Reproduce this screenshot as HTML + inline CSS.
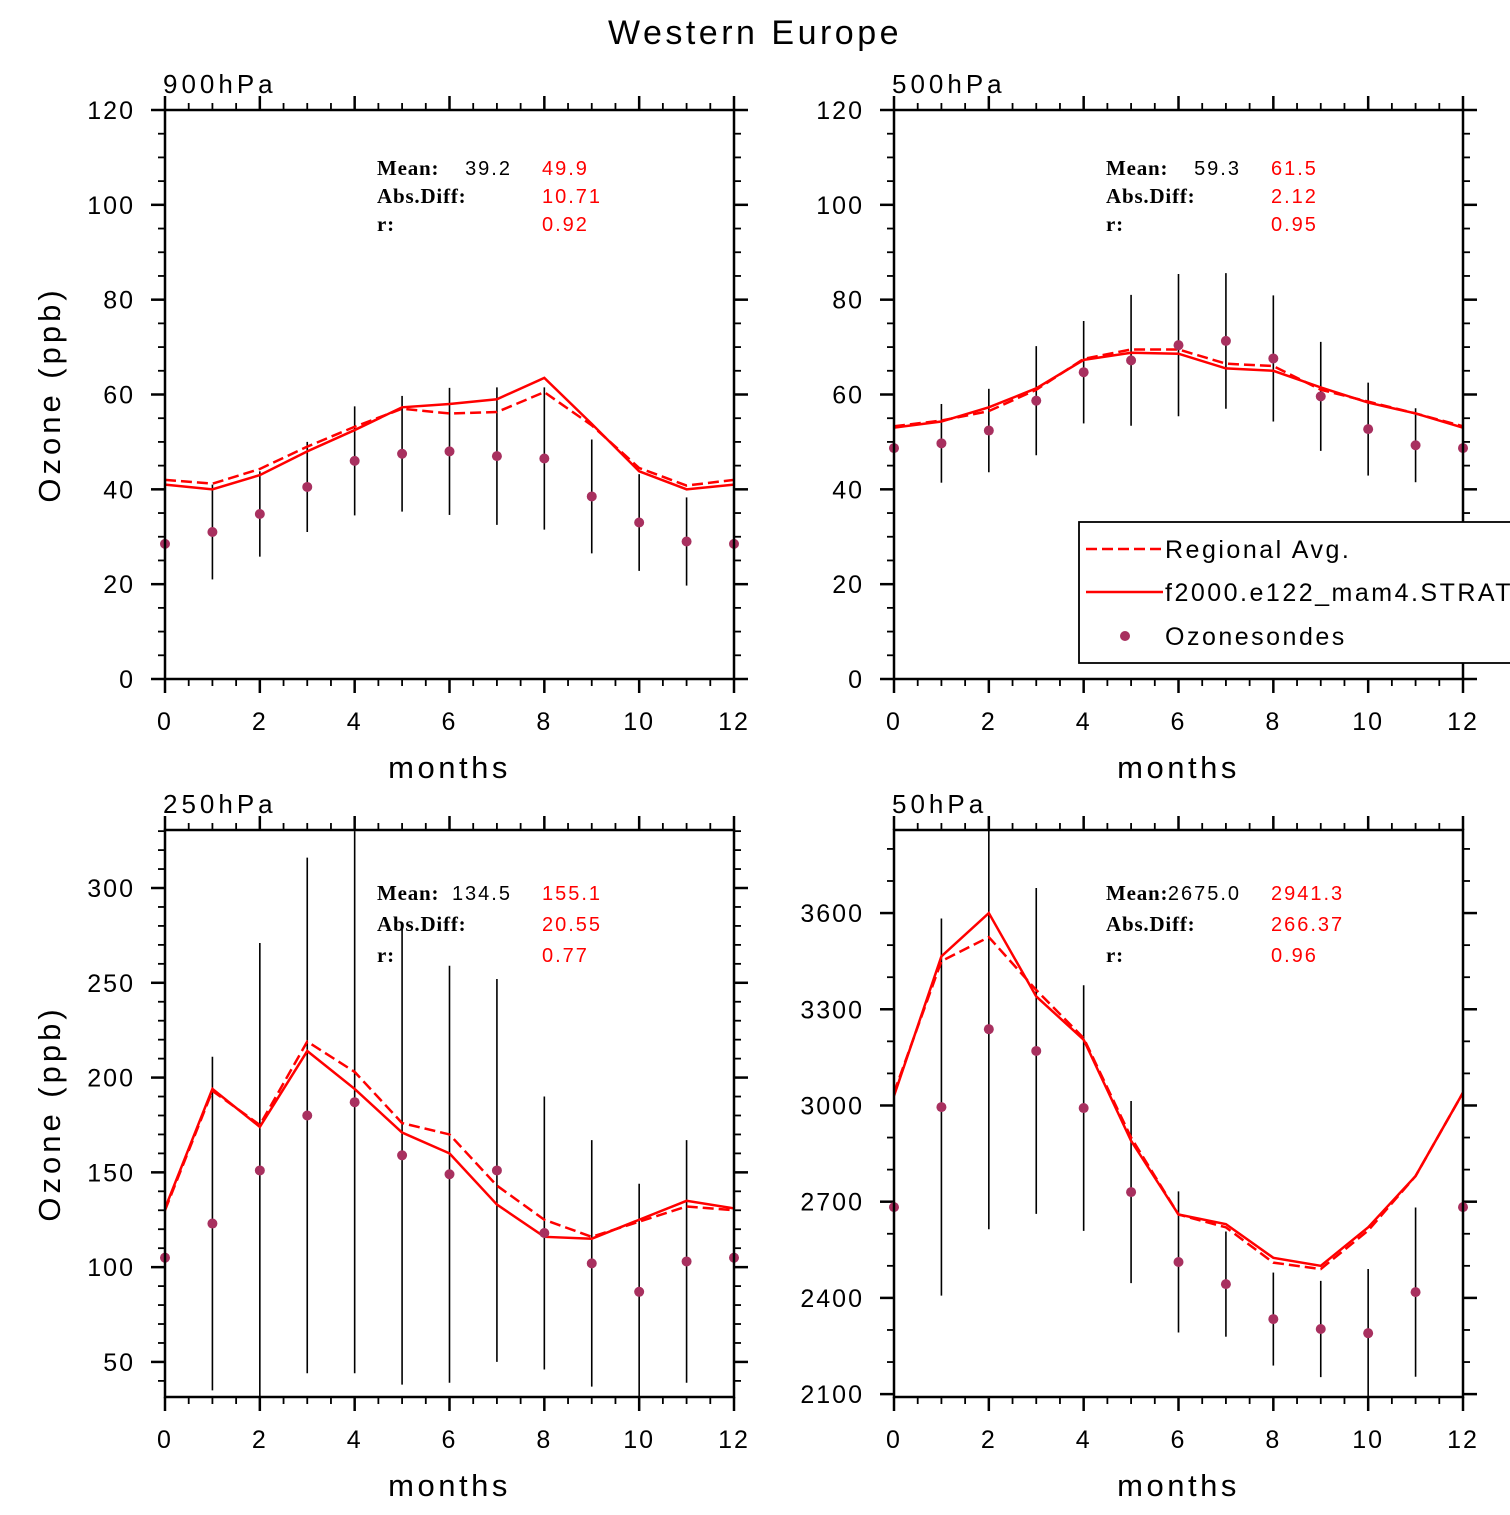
<!DOCTYPE html>
<html><head><meta charset="utf-8"><style>
body{margin:0;background:#fff}
svg text{font-family:"Liberation Sans",sans-serif}
.lab{font-family:"Liberation Serif",serif;font-weight:bold;font-size:21px;letter-spacing:0.8px}
</style></head><body>
<svg id="s" width="1510" height="1510" viewBox="0 0 1510 1510" xmlns="http://www.w3.org/2000/svg">
<text x="755" y="44" font-size="34" text-anchor="middle" letter-spacing="3.5">Western Europe</text>
</svg>
<script>
const months=[0,1,2,3,4,5,6,7,8,9,10,11,12];
const p900Dash=[42,41.2,44.3,49,53.2,57,56,56.3,60.5,53.5,44.5,40.8,42];
const p900Solid=[41,40,43,48,52.5,57.3,58,59,63.5,53.8,43.8,40,41];
const p900Obs=[28.5,31,34.8,40.5,46,47.5,48,47,46.5,38.5,33,29,28.5];
const p900Err=[0,10,9,9.5,11.5,12.2,13.4,14.5,15,12,10.2,9.3,0];
const p500Dash=[53.3,54.5,56.5,61,67.5,69.5,69.5,66.5,66,61,58.5,56,53.3];
const p500Solid=[53,54.3,57.3,61.3,67.3,68.8,68.6,65.5,65,61.5,58.3,56,53];
const p500Obs=[48.7,49.7,52.4,58.7,64.7,67.2,70.4,71.3,67.6,59.6,52.7,49.3,48.7];
const p500Err=[0,8.3,8.8,11.5,10.8,13.8,15,14.3,13.3,11.5,9.8,7.8,0];
const p250Dash=[130,193,175,219,203,176,170,143,125,116,124,132,130];
const p250Solid=[131,194,174,214,194,171,160,133,116,115,125,135,131];
const p250Obs=[105,123,151,180,187,159,149,151,118,102,87,103,105];
const p250Err=[0,88,120,136,143,121,110,101,72,65,57,64,0];
const p50Dash=[3040,3450,3525,3360,3210,2900,2660,2620,2510,2490,2610,2780,3040];
const p50Solid=[3030,3465,3600,3340,3205,2890,2660,2630,2525,2500,2620,2780,3040];
const p50Obs=[2683,2995,3238,3170,2992,2730,2512,2443,2334,2303,2290,2418,2683];
const p50Err=[0,588,624,508,383,284,220,164,145,150,200,264,0];
const xTicks=[0,2,4,6,8,10,12];
const ticks900=[0,20,40,60,80,100,120];
const ticks250=[50,100,150,200,250,300];
const ticks50=[2100,2400,2700,3000,3300,3600];
const stats900=["39.2","49.9","10.71","0.92"];
const stats500=["59.3","61.5","2.12","0.95"];
const stats250=["134.5","155.1","20.55","0.77"];
const stats50=["2675.0","2941.3","266.37","0.96"];
const legendLabels=["Regional Avg.","f2000.e122_mam4.STRAT","Ozonesondes"];

const S=document.getElementById('s');const NS='http://www.w3.org/2000/svg';
function mk(t,a,parent){const e=document.createElementNS(NS,t);for(const k in a)e.setAttribute(k,a[k]);(parent||S).appendChild(e);return e;}

function panel(cfg){
  const g=mk('g',{});
  
  
  const L=cfg.x0,R=cfg.x0+569,T=cfg.top,B=cfg.bot;
  const X=m=>L+(m/12)*(R-L);
  const Y=v=>B-(v-cfg.ymin)/(cfg.ymax-cfg.ymin)*(B-T);
  const cid='c'+cfg.name;
  const cp=mk('clipPath',{id:cid},g);mk('rect',{x:L,y:T,width:R-L,height:B-T},cp);
  for(let m=0;m<=12;m+=0.5){const maj=xTicks.includes(m);const len=maj?14:7;
    const t1=mk('line',{x1:X(m),x2:X(m),y1:B,y2:B+len,stroke:'#000','stroke-width':maj?2.5:1.8},g);
    
    mk('line',{x1:X(m),x2:X(m),y1:T,y2:T-len,stroke:'#000','stroke-width':maj?2.5:1.8},g);}
  xTicks.forEach(m=>{const t=mk('text',{x:X(m),y:B+51,'font-size':25,'text-anchor':'middle','letter-spacing':2},g);t.textContent=m;
    });
  const tk=cfg.ticks,step=(tk[1]-tk[0])/cfg.minor;
  for(let v=tk[0]-step*Math.ceil((tk[0]-cfg.ymin)/step);v<=cfg.ymax+0.001;v+=step){
    if(v<cfg.ymin-0.001)continue;
    const maj=tk.some(t=>Math.abs(t-v)<0.01);const len=maj?14:7;
    mk('line',{x1:L,x2:L-len,y1:Y(v),y2:Y(v),stroke:'#000','stroke-width':maj?2.5:1.8},g);
    mk('line',{x1:R,x2:R+len,y1:Y(v),y2:Y(v),stroke:'#000','stroke-width':maj?2.5:1.8},g);}
  tk.forEach(v=>{const t=mk('text',{x:L-30,y:Y(v)+9,'font-size':25,'text-anchor':'end','letter-spacing':2},g);t.textContent=v;
    });
  const inner=mk('g',{'clip-path':'url(#'+cid+')'},g);
  cfg.err.forEach((e,i)=>{if(!e)return;const l=mk('line',{x1:X(months[i]),x2:X(months[i]),y1:Y(cfg.obs[i]-e),y2:Y(cfg.obs[i]+e),stroke:'#000','stroke-width':1.6},inner);
    });
  const pd=mk('polyline',{points:cfg.dash.map((v,i)=>X(months[i])+','+Y(v)).join(' '),fill:'none',stroke:'#f00','stroke-width':2.5,'stroke-dasharray':'11,5'},inner);
  
  const ps=mk('polyline',{points:cfg.solid.map((v,i)=>X(months[i])+','+Y(v)).join(' '),fill:'none',stroke:'#f00','stroke-width':2.5},inner);
  
  cfg.obs.forEach((v,i)=>{const c=mk('circle',{cx:X(months[i]),cy:Y(v),r:5,fill:'#a8305f'},g);
    });
  const fr=mk('rect',{x:L,y:T,width:R-L,height:B-T,fill:'none',stroke:'#000','stroke-width':2.5},g);
  
  let t=mk('text',{x:L-2,y:T-17,'font-size':26,'letter-spacing':4},g);t.textContent=cfg.title;
  
  t=mk('text',{x:(L+R)/2,y:B+99,'font-size':31,'text-anchor':'middle','letter-spacing':3.5},g);t.textContent='months';
  
  if(cfg.ylab){const cy=(T+B)/2;t=mk('text',{x:60,y:cy,'font-size':31,'text-anchor':'middle','letter-spacing':4,transform:'rotate(-90 60 '+cy+')'},g);t.textContent='Ozone (ppb)';
    }
  const sx=L+212,sy=cfg.sy,dy=cfg.sdy;
  [['Mean:',0],['Abs.Diff:',1],['r:',2]].forEach(([s,k])=>{const e=mk('text',{x:sx,y:sy+k*dy,class:'lab'},g);e.textContent=s;
    });
  const st=cfg.stats;
  t=mk('text',{x:L+347,y:sy,'font-size':20,'letter-spacing':2,'text-anchor':'end'},g);t.textContent=st[0];
  [[st[1],0],[st[2],1],[st[3],2]].forEach(([s,k])=>{const e=mk('text',{x:L+377,y:sy+k*dy,'font-size':20,fill:'#f00','letter-spacing':2},g);e.textContent=s;
    });
}
panel({name:'panel-900hpa',title:'900hPa',x0:165,top:110,bot:679,ymin:0,ymax:120,ticks:ticks900,minor:4,dash:p900Dash,solid:p900Solid,obs:p900Obs,err:p900Err,stats:stats900,sy:175,sdy:28,ylab:true});
panel({name:'panel-500hpa',title:'500hPa',x0:894,top:110,bot:679,ymin:0,ymax:120,ticks:ticks900,minor:4,dash:p500Dash,solid:p500Solid,obs:p500Obs,err:p500Err,stats:stats500,sy:175,sdy:28,ylab:false});
panel({name:'panel-250hpa',title:'250hPa',x0:165,top:830,bot:1397,ymin:31.5,ymax:330.6,ticks:ticks250,minor:5,dash:p250Dash,solid:p250Solid,obs:p250Obs,err:p250Err,stats:stats250,sy:900,sdy:31,ylab:true});
panel({name:'panel-50hpa',title:'50hPa',x0:894,top:830,bot:1397,ymin:2091,ymax:3859,ticks:ticks50,minor:3,dash:p50Dash,solid:p50Solid,obs:p50Obs,err:p50Err,stats:stats50,sy:900,sdy:31,ylab:false});
const lg=mk('g',{});


mk('rect',{x:1079,y:522,width:440,height:141,fill:'#fff',stroke:'#000','stroke-width':1.8},lg);
const ly=[549,592,636];
let e=mk('line',{x1:1086,x2:1163,y1:ly[0],y2:ly[0],stroke:'#f00','stroke-width':2.5,'stroke-dasharray':'11,5'},lg);

e=mk('line',{x1:1086,x2:1163,y1:ly[1],y2:ly[1],stroke:'#f00','stroke-width':2.5},lg);

e=mk('circle',{cx:1125,cy:ly[2],r:5,fill:'#a8305f'},lg);

legendLabels.forEach((s,i)=>{const t=mk('text',{x:1165,y:ly[i]+9,'font-size':25,'letter-spacing':2.5},lg);t.textContent=s;
  });
</script>
</body></html>
